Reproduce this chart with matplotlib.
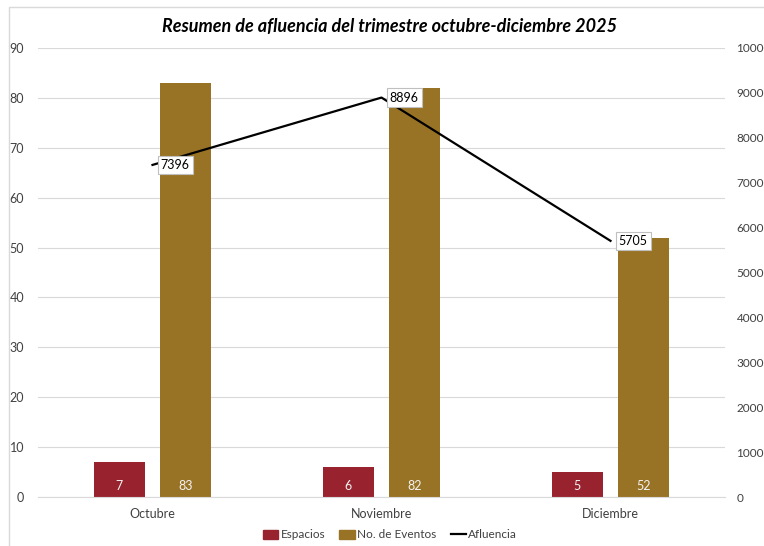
import matplotlib
matplotlib.use("Agg")
import matplotlib.pyplot as plt
from matplotlib.patches import Rectangle
from matplotlib.lines import Line2D
from matplotlib.patches import Patch
import numpy as np

plt.rcParams['font.family'] = ['Lato', 'DejaVu Sans']

months = ["Octubre", "Noviembre", "Diciembre"]
espacios = [7, 6, 5]
eventos = [83, 82, 52]
afluencia = [7396, 8896, 5705]

c_esp = "#98232F"
c_evt = "#997325"
grid_c = "#D9D9D9"
text_c = "#404040"

fig = plt.figure(figsize=(7.64, 5.46), dpi=100)
ax = fig.add_axes([38/764, 1-497/546, (725-38)/764, (497-48)/546])
ax2 = ax.twinx()

x = np.arange(len(months))
w = 0.225
off = 0.145
b1 = ax.bar(x - off, espacios, w, color=c_esp, zorder=2)
b2 = ax.bar(x + off, eventos, w, color=c_evt, zorder=2)
for rect, v in zip(b1, espacios):
    ax.text(rect.get_x() + rect.get_width()/2, 2.2, str(v), ha='center', va='center',
            color='#F2F2F2', fontsize=9, zorder=3)
for rect, v in zip(b2, eventos):
    ax.text(rect.get_x() + rect.get_width()/2, 2.2, str(v), ha='center', va='center',
            color='#F2F2F2', fontsize=9, zorder=3)

ax.set_xlim(-0.5, 2.5)
ax.set_ylim(0, 90)
ax.set_yticks(range(0, 91, 10))
ax.set_xticks(x)
ax.set_xticklabels(months)
ax.yaxis.grid(True, color=grid_c, linewidth=0.8, zorder=0)
ax.set_axisbelow(True)
for s in ax.spines.values():
    s.set_visible(False)
for s in ax2.spines.values():
    s.set_visible(False)
ax.spines['bottom'].set_visible(True)
ax.spines['bottom'].set_color(grid_c)
ax.tick_params(axis='both', length=0, labelsize=9, colors=text_c)
ax.tick_params(axis='x', pad=8)
ax.tick_params(axis='y', pad=10)

ax2.set_ylim(0, 10000)
ax2.set_yticks(range(0, 10001, 1000))
ax2.tick_params(axis='y', length=0, labelsize=8.5, colors=text_c, pad=8.3)
ax2.plot(x, afluencia, color='black', linewidth=1.6, zorder=5)
for xi, v in zip(x, afluencia):
    ax2.annotate(str(v), (xi, v), xytext=(6, 0), textcoords='offset points',
                 ha='left', va='center', fontsize=9, color='black', zorder=6,
                 bbox=dict(boxstyle='square,pad=0.25', fc='white', ec='#BFBFBF', lw=0.8))

fig.text(390/764, 1-26/546, "Resumen de afluencia del trimestre octubre-diciembre 2025",
         ha='center', va='center', fontsize=13, fontweight='bold', fontstyle='italic',
         color='black')

handles = [Patch(color=c_esp, label='Espacios'),
           Patch(color=c_evt, label='No. de Eventos'),
           Line2D([0], [0], color='black', lw=1.6, label='Afluencia')]
fig.legend(handles=handles, loc='center', bbox_to_anchor=(390/764, 1-535/546), ncol=3,
           frameon=False, fontsize=8.5, handlelength=1.3, handleheight=0.7,
           columnspacing=1.2, handletextpad=0.2, labelcolor=text_c)

fig.patches.append(Rectangle((9/764, -0.01), 1.0, 1-7/546 + 0.01, transform=fig.transFigure,
                             fill=False, ec='#D9D9D9', lw=1))

fig.savefig("out.png", dpi=100)
